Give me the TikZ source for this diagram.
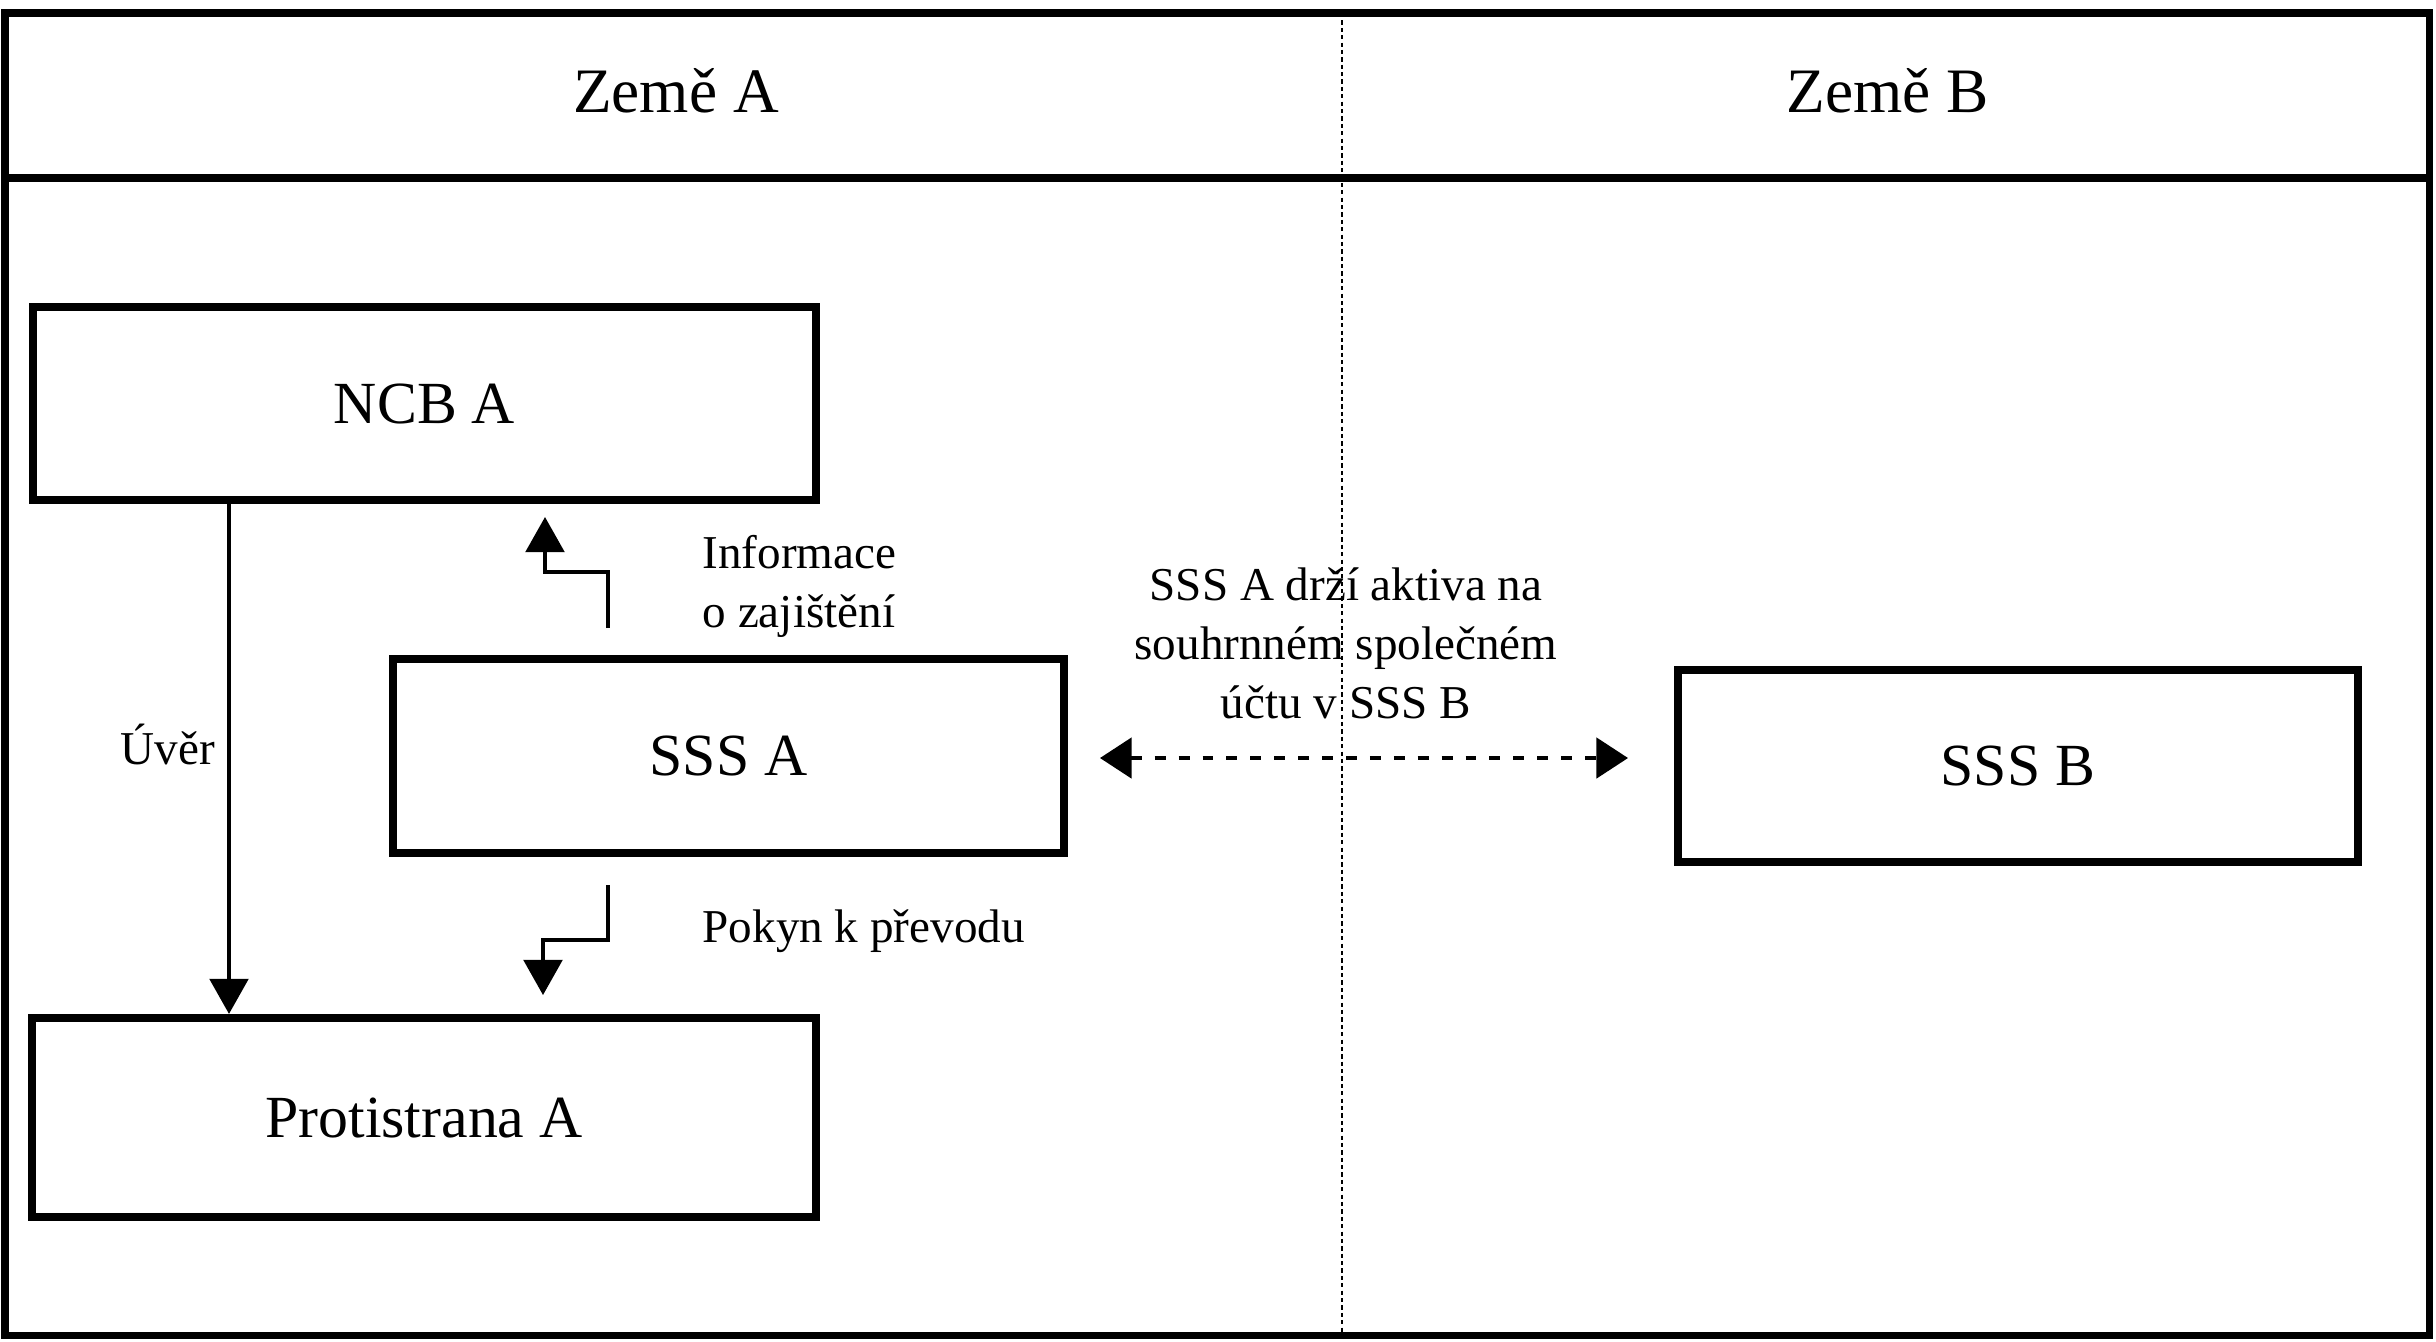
\documentclass[tikz,border=0pt]{standalone}
\usepackage{fontspec}
\setmainfont{Liberation Serif}
\usetikzlibrary{arrows.meta}
\begin{document}
\begin{tikzpicture}[x=0.01cm,y=-0.01cm,
  box/.style={draw, line width=2.3pt, inner sep=0pt, font=\fontsize{17}{20}\selectfont},
  lbl/.style={inner sep=0pt, font=\fontsize{13.4}{16.8}\selectfont},
  hdr/.style={inner sep=0pt, font=\fontsize{18}{21}\selectfont},
  conn/.style={line width=1pt, -{Triangle[length=10pt,width=11pt]}},
  dconn/.style={line width=1pt, dash pattern=on 3.1pt off 3.7pt, {Triangle[length=9pt,width=11.5pt]}-{Triangle[length=9pt,width=11.5pt]}},
  frame/.style={line width=2pt},
  divider/.style={line width=0.8pt, dash pattern=on 1.2pt off 0.9pt}
]
\useasboundingbox[fill=white] (0,0) rectangle (2436,1341);

% frame and header
\draw[frame] (5,13) rectangle (2429,1335);
\draw[frame] (5,178) -- (2429,178);
\draw[divider] (1342,13) -- (1342,1335);
\node[hdr, anchor=base] (zemeA) at (676,112) {Země A};
\node[hdr, anchor=base] (zemeB) at (1888,112) {Země B};

% boxes
\node[box, minimum width=7.83cm, minimum height=1.93cm] (ncb) at (424.5,403.5) {NCB A};
\node[box, minimum width=6.71cm, minimum height=1.94cm] (sssa) at (728.5,756) {SSS A};
\node[box, minimum width=7.83cm, minimum height=1.99cm] (prot) at (424,1117.5) {Protistrana A};
\node[box, minimum width=6.80cm, minimum height=1.92cm] (sssb) at (2018,766) {SSS B};

% Úvěr
\coordinate (uvx) at (229,0);
\draw[conn] (ncb.south -| uvx) -- (prot.north -| uvx);
\node[lbl, anchor=base] (uver) at (168,764) {Úvěr};

% Informace o zajištění
\coordinate (i1) at (608,628);
\coordinate (i2) at (545,572);
\coordinate (i3) at (545,517);
\draw[conn] (i1) |- (i2) -- (i3);
\node[lbl, anchor=west, align=left] (info) at (702,586) {Informace\\o zajištění};

% Pokyn k převodu
\coordinate (p1) at (608,885);
\coordinate (p2) at (543,940);
\coordinate (p3) at (543,995);
\draw[conn] (p1) |- (p2) -- (p3);
\node[lbl, anchor=base west] (pokyn) at (702,942) {Pokyn k převodu};

% dashed double arrow
\coordinate (d1) at (1100,758);
\coordinate (d2) at (1628,758);
\draw[dconn] (d1) -- (d2);
\node[lbl, align=center] (drzi) at (1346,643) {SSS A drží aktiva na\\souhrnném společném\\účtu v SSS B};
\end{tikzpicture}
\end{document}
